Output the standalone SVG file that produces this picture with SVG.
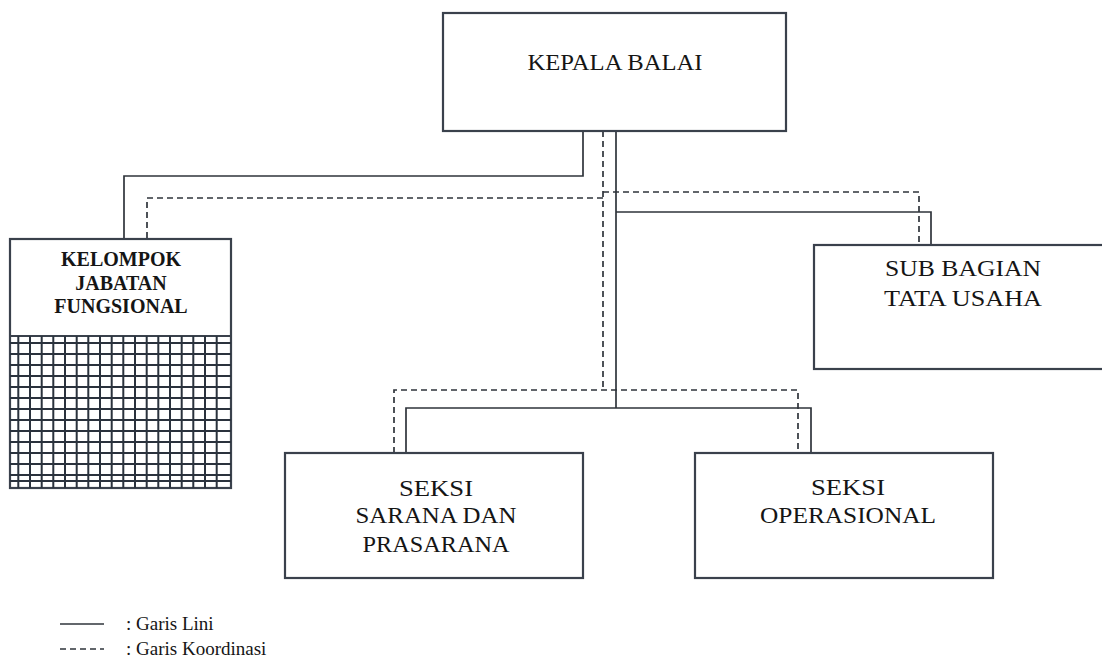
<svg xmlns="http://www.w3.org/2000/svg" width="1102" height="662" viewBox="0 0 1102 662">
  <style>
    .box { fill: #ffffff; stroke: #3a414c; stroke-width: 2.2; }
    .line { fill: none; stroke: #2f343b; stroke-width: 1.7; }
    .coord { fill: none; stroke: #2f343b; stroke-width: 1.7; stroke-dasharray: 6 4; }
    .grid { fill: none; stroke: #2a323d; stroke-width: 2; }
    .lbl { font-family: "Liberation Serif", "Times New Roman", serif; font-size: 23px; fill: #151515; text-anchor: middle; }
    .lblb { font-family: "Liberation Serif", "Times New Roman", serif; font-size: 20px; font-weight: bold; fill: #151515; text-anchor: middle; }
    .legend { font-family: "Liberation Serif", "Times New Roman", serif; font-size: 19px; fill: #151515; }
  </style>

  <rect width="1102" height="662" fill="#ffffff"/>

  <!-- connectors: solid = line of command, dashed = coordination -->
  <g id="connectors">
    <path class="line" d="M583,131 V176 H124 V239"/>
    <path class="line" d="M616,131 V408"/>
    <path class="line" d="M616,212 H931 V245"/>
    <path class="line" d="M406,453 V408 H811 V453"/>
    <path class="coord" d="M603,131 V390"/>
    <path class="coord" d="M603,198 H147 V239"/>
    <path class="coord" d="M603,192 H919 V245"/>
    <path class="coord" d="M394,453 V390 H798 V453"/>
  </g>

  <g id="kepala-balai">
    <rect class="box" x="443" y="13" width="343" height="118"/>
    <text class="lbl" x="615" y="70" textLength="175" lengthAdjust="spacingAndGlyphs">KEPALA BALAI</text>
  </g>

  <g id="kelompok-jabatan-fungsional">
    <rect class="box" x="10" y="239" width="221" height="249"/>
    <line x1="10" y1="336" x2="231" y2="336" stroke="#3a414c" stroke-width="2.2"/>
    <!-- hatched lower part of the box -->
    <path class="grid" d="M18.3,336 V488 M30,336 V488 M41.7,336 V488 M53.3,336 V488 M65,336 V488 M76.7,336 V488 M88.3,336 V488 M100,336 V488 M111.7,336 V488 M123.3,336 V488 M135,336 V488 M146.7,336 V488 M158.3,336 V488 M170,336 V488 M181.7,336 V488 M193.3,336 V488 M205,336 V488 M216.7,336 V488
      M10,343 H231 M10,354 H231 M10,365 H231 M10,376 H231 M10,387 H231 M10,398 H231 M10,409 H231 M10,420 H231 M10,431 H231 M10,442 H231 M10,453 H231 M10,464 H231 M10,475 H231 M10,481 H231"/>
    <text class="lblb" x="121" y="266">KELOMPOK</text>
    <text class="lblb" x="121" y="290">JABATAN</text>
    <text class="lblb" x="121" y="313">FUNGSIONAL</text>
  </g>

  <g id="sub-bagian-tata-usaha">
    <rect class="box" x="814" y="245" width="298" height="124"/>
    <text class="lbl" x="963" y="276" textLength="156" lengthAdjust="spacingAndGlyphs">SUB BAGIAN</text>
    <text class="lbl" x="963" y="306" textLength="158" lengthAdjust="spacingAndGlyphs">TATA USAHA</text>
  </g>

  <g id="seksi-sarana-prasarana">
    <rect class="box" x="285" y="453" width="298" height="125"/>
    <text class="lbl" x="436" y="496" textLength="74" lengthAdjust="spacingAndGlyphs">SEKSI</text>
    <text class="lbl" x="436" y="523" textLength="161" lengthAdjust="spacingAndGlyphs">SARANA DAN</text>
    <text class="lbl" x="436" y="552" textLength="147" lengthAdjust="spacingAndGlyphs">PRASARANA</text>
  </g>

  <g id="seksi-operasional">
    <rect class="box" x="695" y="453" width="298" height="125"/>
    <text class="lbl" x="848" y="495" textLength="74" lengthAdjust="spacingAndGlyphs">SEKSI</text>
    <text class="lbl" x="848" y="523" textLength="176" lengthAdjust="spacingAndGlyphs">OPERASIONAL</text>
  </g>

  <g id="legend">
    <line class="line" x1="60" y1="624" x2="104" y2="624"/>
    <text class="legend" x="126" y="630">: Garis Lini</text>
    <line class="coord" x1="60" y1="649" x2="104" y2="649" stroke-dasharray="5 4"/>
    <text class="legend" x="126" y="655">: Garis Koordinasi</text>
  </g>
</svg>
